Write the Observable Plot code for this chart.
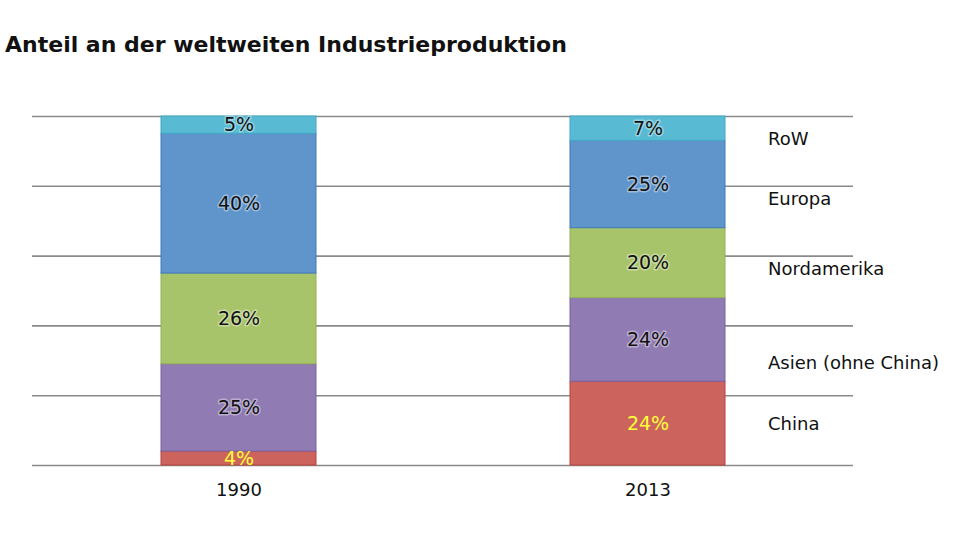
<!DOCTYPE html>
<html>
<head>
<meta charset="utf-8">
<script src="https://cdn.jsdelivr.net/npm/d3@7"></script>
<script src="https://cdn.jsdelivr.net/npm/@observablehq/plot@0.6"></script>
<style>
  html, body { margin: 0; padding: 0; background: #fff; }
  #chart { width: 960px; height: 539px; overflow: hidden; font-family: "DejaVu Sans", Verdana, sans-serif; }
  #title { height: 80px; box-sizing: border-box; padding: 31px 0 0 5px; font-size: 22px; line-height: 28px; font-weight: bold; color: #111; }
</style>
</head>
<body>
<div id="chart">
  <div id="title">Anteil an der weltweiten Industrieproduktion</div>
</div>
<script>
// Share of world industrial production by region, in percent
const years = ["1990", "2013"];
const regions = ["China", "Asien (ohne China)", "Nordamerika", "Europa", "RoW"];
const share1990 = [4, 25, 26, 40, 5];
const share2013 = [24, 24, 20, 25, 7];
const gridTicks = [0, 20, 40, 60, 80, 100];

// Region fills and slightly darker edge tones
const fills = ["#cc645d", "#907bb3", "#a8c46b", "#5f95ca", "#58bad3"];
const edges = ["#b8403a", "#7a62a3", "#94b257", "#3f78c2", "#43a8c4"];
// Label colours inside the segments, with a soft halo on the dark ones
const labelFill = ["#ffff3a", "#111", "#111", "#111", "#111"];
const labelHalo = ["none", "white", "white", "white", "white"];
// Where the region names sit on the right, in percent of the axis
const legendAt = [11.7, 29.2, 56.2, 76.2, 93.4];

const rows = [];
years.forEach((year, j) => {
  const values = j === 0 ? share1990 : share2013;
  regions.forEach((region, i) => rows.push({year, region, value: values[i], idx: i}));
});
const legendRows = regions.map((region, i) => ({region, at: legendAt[i]}));

const plot = Plot.plot({
  width: 960,
  height: 459,
  marginTop: 36,
  marginBottom: 74,
  marginLeft: 32,
  marginRight: 107,
  style: {fontFamily: "DejaVu Sans, Verdana, sans-serif", fontSize: "18px", color: "#111", background: "white"},
  x: {domain: years, paddingInner: 0.6215, paddingOuter: 0.313, label: null},
  y: {domain: [0, 100], axis: null},
  color: {domain: regions, range: fills},
  marks: [
    Plot.ruleY(gridTicks, {stroke: "#8a8a8a", strokeWidth: 1.6}),
    Plot.barY(rows, {
      x: "year", y: "value", z: "region", fill: "region",
      stroke: d => edges[d.idx], strokeWidth: 1
    }),
    Plot.text(rows, Plot.stackY({
      x: "year", y: "value", z: "region",
      text: d => d.value + "%",
      fill: d => labelFill[d.idx],
      stroke: d => labelHalo[d.idx], strokeOpacity: 0.4, strokeWidth: 3,
      fontSize: 19
    })),
    Plot.text(legendRows, {
      x: () => "2013", y: "at", text: "region",
      dx: 120, textAnchor: "start", fill: "#111", fontSize: 18
    }),
    Plot.axisX({tickSize: 0, tickPadding: 18, fontSize: 18, label: null})
  ]
});
plot.querySelectorAll("[aria-label='x-axis tick label'] text").forEach(t => t.setAttribute("fill", "#111"));
document.getElementById("chart").appendChild(plot);
</script>
</body>
</html>
